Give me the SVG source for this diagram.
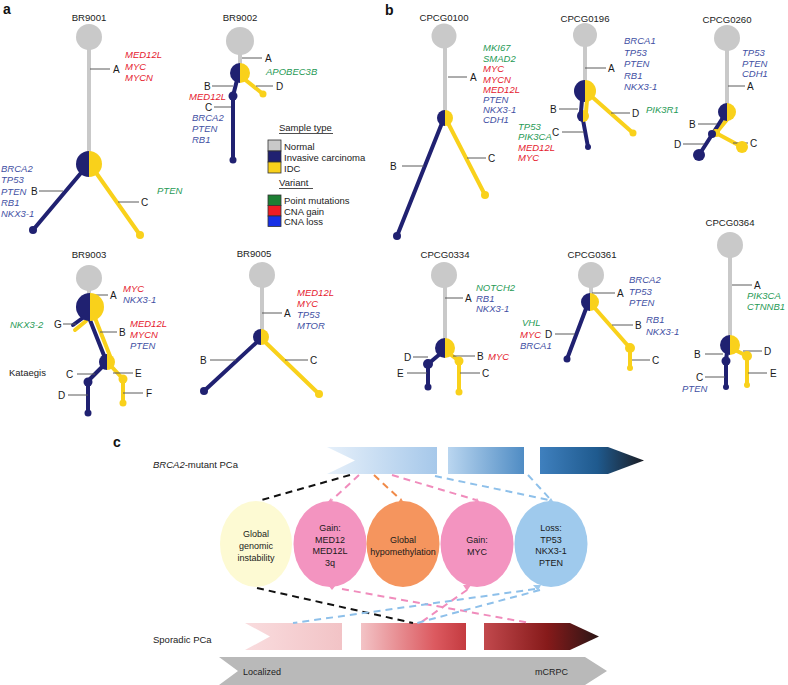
<svg xmlns="http://www.w3.org/2000/svg" width="788" height="685" viewBox="0 0 788 685">
<defs>
<style>
text{font-family:"Liberation Sans",Arial,sans-serif;fill:#222}
.pl{font-size:14px;font-weight:bold;fill:#111}
.tt{font-size:9.6px;text-anchor:middle}
.tk{font-size:10px;fill:#1a1a1a}
.gi{font-size:9.5px;font-style:italic}
.r{fill:#e5202e}.b{fill:#3f50a3}.g{fill:#1f9a55}
.lg{font-size:9.5px}
.ct{font-size:9px;text-anchor:middle;fill:#1a1a1a}
.tick{stroke:#5a5a5a;stroke-width:1;fill:none}
.stem{stroke:#c9c9c9;stroke-width:4;fill:none}
.nv{stroke:#202171;stroke-width:4;stroke-linecap:round;fill:none}
.yl{stroke:#f9d11b;stroke-width:4;stroke-linecap:round;fill:none}
.fn{fill:#c9c9c9}.fnv{fill:#202171}.fyl{fill:#f9d11b}
.d{stroke-width:2;stroke-dasharray:7 5;fill:none}
</style>
<linearGradient id="gb1" x1="0" x2="1" y1="0" y2="0"><stop offset="0" stop-color="#e6f0fa"/><stop offset="1" stop-color="#a6c8ea"/></linearGradient>
<linearGradient id="gb2" x1="0" x2="1" y1="0" y2="0"><stop offset="0" stop-color="#bad6f0"/><stop offset="1" stop-color="#4f8cc4"/></linearGradient>
<linearGradient id="gb3" x1="0" x2="1" y1="0" y2="0"><stop offset="0" stop-color="#3f80be"/><stop offset="0.55" stop-color="#1f5a8e"/><stop offset="1" stop-color="#1b1d24"/></linearGradient>
<linearGradient id="gr1" x1="0" x2="1" y1="0" y2="0"><stop offset="0" stop-color="#f9dcde"/><stop offset="1" stop-color="#f2c3c6"/></linearGradient>
<linearGradient id="gr2" x1="0" x2="1" y1="0" y2="0"><stop offset="0" stop-color="#f3c3c6"/><stop offset="0.7" stop-color="#dc5a60"/><stop offset="1" stop-color="#c43b40"/></linearGradient>
<linearGradient id="gr3" x1="0" x2="1" y1="0" y2="0"><stop offset="0" stop-color="#c2494d"/><stop offset="0.55" stop-color="#861a1a"/><stop offset="1" stop-color="#2a1515"/></linearGradient>
</defs>
<rect width="788" height="685" fill="#fff"/>

<text class="pl" x="3" y="14">a</text>
<text class="pl" x="385" y="15">b</text>
<text class="pl" x="113" y="447">c</text>

<!-- BR9001 -->
<g id="BR9001">
<text class="tt" x="89" y="21">BR9001</text>
<g id="BR9001-edges">
<line class="stem" x1="89" y1="37" x2="89" y2="163"/>
<line class="nv" x1="86" y1="167" x2="33" y2="230"/>
<line class="yl" x1="92" y1="167" x2="140" y2="235"/>
<line class="tick" x1="90" y1="69" x2="110" y2="69"/>
<line class="tick" x1="39" y1="191" x2="63" y2="191"/>
<line class="tick" x1="118" y1="202" x2="139" y2="202"/>
</g>
<g id="BR9001-n0"><circle class="fn" cx="89" cy="37" r="13"/></g>
<g id="BR9001-n1"><path class="fnv" d="M89,151 A13,13 0 0 0 89,177 Z"/><path class="fyl" d="M89,151 A13,13 0 0 1 89,177 Z"/></g>
<g id="BR9001-nB"><circle class="fnv" cx="33" cy="230" r="4"/></g>
<g id="BR9001-nC"><circle class="fyl" cx="140" cy="235" r="4"/></g>
<text class="tk" x="113" y="73">A</text>
<text class="tk" x="31" y="195">B</text>
<text class="tk" x="141" y="206">C</text>
<text class="gi r" x="125" y="58">MED12L</text>
<text class="gi r" x="125" y="69.5">MYC</text>
<text class="gi r" x="125" y="81">MYCN</text>
<text class="gi b" x="1" y="172">BRCA2</text>
<text class="gi b" x="1" y="183">TP53</text>
<text class="gi b" x="1" y="195">PTEN</text>
<text class="gi b" x="1" y="206">RB1</text>
<text class="gi b" x="1" y="217">NKX3-1</text>
<text class="gi g" x="157" y="194">PTEN</text>
</g>

<!-- BR9002 -->
<g id="BR9002">
<text class="tt" x="240" y="21">BR9002</text>
<g id="BR9002-edges">
<line class="stem" x1="240" y1="41" x2="240" y2="64"/>
<line class="nv" x1="237" y1="80" x2="233" y2="96"/>
<line class="nv" x1="233" y1="96" x2="233" y2="160"/>
<line class="yl" x1="243" y1="78" x2="263" y2="94"/>
<line class="tick" x1="242" y1="58" x2="262" y2="58"/>
<line class="tick" x1="256" y1="86" x2="273" y2="86"/>
<line class="tick" x1="212" y1="86" x2="233" y2="86"/>
<line class="tick" x1="214" y1="107" x2="231" y2="107"/>
</g>
<g id="BR9002-n0"><circle class="fn" cx="240" cy="41" r="14"/></g>
<g id="BR9002-n1"><path class="fnv" d="M240,63 A10,10 0 0 0 240,83 Z"/><path class="fyl" d="M240,63 A10,10 0 0 1 240,83 Z"/></g>
<g id="BR9002-nB"><circle class="fnv" cx="233" cy="96" r="4.5"/></g>
<g id="BR9002-nC"><circle class="fnv" cx="233" cy="160" r="3.5"/></g>
<g id="BR9002-nD"><circle class="fyl" cx="263" cy="94" r="3.5"/></g>
<text class="tk" x="265" y="62">A</text>
<text class="tk" x="276" y="90">D</text>
<text class="tk" x="204" y="90">B</text>
<text class="tk" x="205" y="111">C</text>
<text class="gi g" x="266" y="75">APOBEC3B</text>
<text class="gi r" x="226" y="100" text-anchor="end">MED12L</text>
<text class="gi b" x="192" y="121">BRCA2</text>
<text class="gi b" x="192" y="132">PTEN</text>
<text class="gi b" x="192" y="143">RB1</text>
</g>

<!-- Legend -->
<g id="legend">
<text class="lg" x="279" y="131">Sample type</text>
<line x1="279" y1="133.5" x2="333" y2="133.5" stroke="#222" stroke-width="0.8"/>
<rect x="268" y="140" width="13" height="11" fill="#c9c9c9" stroke="#333" stroke-width="0.8"/>
<rect x="268" y="151" width="13" height="11" fill="#202171" stroke="#333" stroke-width="0.8"/>
<rect x="268" y="162" width="13" height="11" fill="#f9d11b" stroke="#333" stroke-width="0.8"/>
<text class="lg" x="284" y="150">Normal</text>
<text class="lg" x="284" y="161">Invasive carcinoma</text>
<text class="lg" x="284" y="172">IDC</text>
<text class="lg" x="279" y="186">Variant</text>
<line x1="279" y1="188.5" x2="313" y2="188.5" stroke="#222" stroke-width="0.8"/>
<rect x="268" y="195" width="13" height="10.5" fill="#1d7f33" stroke="#333" stroke-width="0.8"/>
<rect x="268" y="205.5" width="13" height="10.5" fill="#ee1c24" stroke="#333" stroke-width="0.8"/>
<rect x="268" y="216" width="13" height="10.5" fill="#1730e6" stroke="#333" stroke-width="0.8"/>
<text class="lg" x="284" y="204">Point mutations</text>
<text class="lg" x="284" y="215">CNA gain</text>
<text class="lg" x="284" y="225">CNA loss</text>
</g>

<!-- BR9003 -->
<g id="BR9003">
<text class="tt" x="89" y="258">BR9003</text>
<g id="BR9003-edges">
<line class="stem" x1="89" y1="278" x2="89" y2="294"/>
<line class="yl" x1="86" y1="321" x2="75" y2="330"/>
<line class="nv" x1="84" y1="317" x2="73" y2="325"/>
<line class="yl" x1="93" y1="313" x2="110" y2="356"/>
<line class="nv" x1="88" y1="315" x2="105" y2="358"/>
<line class="nv" x1="103" y1="366" x2="88" y2="381"/>
<line class="nv" x1="88" y1="382" x2="88" y2="413"/>
<line class="yl" x1="111" y1="366" x2="123" y2="379"/>
<line class="yl" x1="123" y1="379" x2="123" y2="403"/>
<line class="tick" x1="90" y1="295" x2="108" y2="295"/>
<line class="tick" x1="63" y1="324" x2="76" y2="324"/>
<line class="tick" x1="100" y1="332" x2="117" y2="332"/>
<line class="tick" x1="77" y1="374" x2="95" y2="374"/>
<line class="tick" x1="113" y1="373" x2="133" y2="373"/>
<line class="tick" x1="68" y1="395" x2="88" y2="395"/>
<line class="tick" x1="123" y1="393" x2="143" y2="393"/>
</g>
<g id="BR9003-n0"><circle class="fn" cx="89" cy="278" r="13"/></g>
<g id="BR9003-n1"><path class="fnv" d="M90,293 A14,14 0 0 0 90,321 Z"/><path class="fyl" d="M90,293 A14,14 0 0 1 90,321 Z"/></g>
<g id="BR9003-n2"><path class="fnv" d="M107,354 A8,8 0 0 0 107,370 Z"/><path class="fyl" d="M107,354 A8,8 0 0 1 107,370 Z"/></g>
<g id="BR9003-nC"><circle class="fnv" cx="88" cy="382" r="4.5"/></g>
<g id="BR9003-nD"><circle class="fnv" cx="88" cy="413" r="3.5"/></g>
<g id="BR9003-nE"><circle class="fyl" cx="123" cy="379" r="4.5"/></g>
<g id="BR9003-nF"><circle class="fyl" cx="123" cy="403" r="3.5"/></g>
<text class="tk" x="110" y="299">A</text>
<text class="tk" x="54" y="328">G</text>
<text class="tk" x="119" y="336">B</text>
<text class="tk" x="66" y="378">C</text>
<text class="tk" x="135" y="377">E</text>
<text class="tk" x="58" y="399">D</text>
<text class="tk" x="146" y="397">F</text>
<text class="gi r" x="123" y="292">MYC</text>
<text class="gi b" x="123" y="303">NKX3-1</text>
<text class="gi g" x="10" y="328">NKX3-2</text>
<text class="gi r" x="130" y="327">MED12L</text>
<text class="gi r" x="130" y="338">MYCN</text>
<text class="gi b" x="130" y="349">PTEN</text>
<text x="9" y="376" font-size="9.5" fill="#333">Kataegis</text>
</g>

<!-- BR9005 -->
<g id="BR9005">
<text class="tt" x="254" y="257">BR9005</text>
<g id="BR9005-edges">
<line class="stem" x1="262" y1="275" x2="262" y2="331"/>
<line class="nv" x1="258" y1="341" x2="204" y2="391"/>
<line class="yl" x1="264" y1="341" x2="319" y2="394"/>
<line class="tick" x1="262" y1="313" x2="282" y2="313"/>
<line class="tick" x1="210" y1="360" x2="236" y2="360"/>
<line class="tick" x1="285" y1="360" x2="308" y2="360"/>
</g>
<g id="BR9005-n0"><circle class="fn" cx="262" cy="275" r="13"/></g>
<g id="BR9005-n1"><path class="fnv" d="M261,329 A8,8 0 0 0 261,345 Z"/><path class="fyl" d="M261,329 A8,8 0 0 1 261,345 Z"/></g>
<g id="BR9005-nB"><circle class="fnv" cx="204" cy="391" r="4"/></g>
<g id="BR9005-nC"><circle class="fyl" cx="319" cy="394" r="4"/></g>
<text class="tk" x="284" y="317">A</text>
<text class="tk" x="200" y="364">B</text>
<text class="tk" x="310" y="364">C</text>
<text class="gi r" x="297" y="296">MED12L</text>
<text class="gi r" x="297" y="307">MYC</text>
<text class="gi b" x="297" y="318">TP53</text>
<text class="gi b" x="297" y="329">MTOR</text>
</g>

<!-- CPCG0100 -->
<g id="CPCG0100">
<text class="tt" x="444" y="21">CPCG0100</text>
<g id="CPCG0100-edges">
<line class="stem" x1="445" y1="36" x2="445" y2="112"/>
<line class="nv" x1="442" y1="123" x2="397" y2="236"/>
<line class="yl" x1="448" y1="123" x2="485" y2="195"/>
<line class="tick" x1="448" y1="77" x2="467" y2="77"/>
<line class="tick" x1="402" y1="166" x2="424" y2="166"/>
<line class="tick" x1="467" y1="158" x2="486" y2="158"/>
</g>
<g id="CPCG0100-n0"><circle class="fn" cx="444" cy="36" r="12.5"/></g>
<g id="CPCG0100-n1"><path class="fnv" d="M445,110 A8,8 0 0 0 445,126 Z"/><path class="fyl" d="M445,110 A8,8 0 0 1 445,126 Z"/></g>
<g id="CPCG0100-nB"><circle class="fnv" cx="397" cy="236" r="4"/></g>
<g id="CPCG0100-nC"><circle class="fyl" cx="485" cy="195" r="4"/></g>
<text class="tk" x="470" y="81">A</text>
<text class="tk" x="390" y="170">B</text>
<text class="tk" x="488" y="162">C</text>
<text class="gi g" x="483" y="51">MKI67</text>
<text class="gi g" x="483" y="61.5">SMAD2</text>
<text class="gi r" x="483" y="72">MYC</text>
<text class="gi r" x="483" y="82.5">MYCN</text>
<text class="gi r" x="483" y="93">MED12L</text>
<text class="gi b" x="483" y="103">PTEN</text>
<text class="gi b" x="483" y="113">NKX3-1</text>
<text class="gi b" x="483" y="123">CDH1</text>
</g>

<!-- CPCG0196 -->
<g id="CPCG0196">
<text class="tt" x="585" y="22">CPCG0196</text>
<g id="CPCG0196-edges">
<line class="stem" x1="585" y1="35" x2="585" y2="82"/>
<line class="yl" x1="587" y1="100" x2="586" y2="112"/>
<line class="nv" x1="582" y1="100" x2="581" y2="112"/>
<line class="nv" x1="583" y1="120" x2="588" y2="147"/>
<line class="yl" x1="590" y1="95" x2="633" y2="133"/>
<line class="tick" x1="585" y1="68" x2="606" y2="68"/>
<line class="tick" x1="559" y1="109" x2="578" y2="109"/>
<line class="tick" x1="562" y1="132" x2="584" y2="132"/>
<line class="tick" x1="611" y1="113" x2="630" y2="113"/>
</g>
<g id="CPCG0196-n0"><circle class="fn" cx="585" cy="35" r="12"/></g>
<g id="CPCG0196-n1"><path class="fnv" d="M585,80 A11,11 0 0 0 585,102 Z"/><path class="fyl" d="M585,80 A11,11 0 0 1 585,102 Z"/></g>
<g id="CPCG0196-n2"><path class="fnv" d="M583,110 A6,6 0 0 0 583,122 Z"/><path class="fyl" d="M583,110 A6,6 0 0 1 583,122 Z"/></g>
<g id="CPCG0196-nC"><circle class="fnv" cx="588" cy="147" r="3"/></g>
<g id="CPCG0196-nD"><circle class="fyl" cx="633" cy="133" r="3.5"/></g>
<text class="tk" x="608" y="72">A</text>
<text class="tk" x="550" y="113">B</text>
<text class="tk" x="552" y="136">C</text>
<text class="tk" x="632" y="117">D</text>
<text class="gi b" x="624" y="44">BRCA1</text>
<text class="gi b" x="624" y="55.5">TP53</text>
<text class="gi b" x="624" y="67">PTEN</text>
<text class="gi b" x="624" y="78.5">RB1</text>
<text class="gi b" x="624" y="90">NKX3-1</text>
<text class="gi g" x="646" y="113">PIK3R1</text>
<text class="gi g" x="518" y="130">TP53</text>
<text class="gi g" x="518" y="140">PIK3CA</text>
<text class="gi r" x="518" y="150.5">MED12L</text>
<text class="gi r" x="518" y="161">MYC</text>
</g>

<!-- CPCG0260 -->
<g id="CPCG0260">
<text class="tt" x="727" y="23">CPCG0260</text>
<g id="CPCG0260-edges">
<line class="stem" x1="727" y1="38" x2="727" y2="105"/>
<line class="yl" x1="730" y1="116" x2="716" y2="133"/>
<line class="yl" x1="716" y1="133" x2="742" y2="147"/>
<line class="nv" x1="724" y1="116" x2="699" y2="155"/>
<line class="tick" x1="728" y1="86" x2="745" y2="86"/>
<line class="tick" x1="698" y1="124" x2="717" y2="124"/>
<line class="tick" x1="683" y1="144" x2="704" y2="144"/>
<line class="tick" x1="733" y1="143" x2="748" y2="143"/>
</g>
<g id="CPCG0260-n0"><circle class="fn" cx="727" cy="38" r="13"/></g>
<g id="CPCG0260-n1"><path class="fnv" d="M727,103 A9,9 0 0 0 727,121 Z"/><path class="fyl" d="M727,103 A9,9 0 0 1 727,121 Z"/></g>
<g id="CPCG0260-nY"><circle class="fyl" cx="716" cy="133" r="4"/></g>
<g id="CPCG0260-nB"><circle class="fnv" cx="712" cy="134" r="4"/></g>
<g id="CPCG0260-nD"><circle class="fnv" cx="699" cy="155" r="6"/></g>
<g id="CPCG0260-nC"><circle class="fyl" cx="742" cy="147" r="6"/></g>
<text class="tk" x="747" y="90">A</text>
<text class="tk" x="689" y="128">B</text>
<text class="tk" x="674" y="148">D</text>
<text class="tk" x="750" y="147">C</text>
<text class="gi b" x="742" y="56">TP53</text>
<text class="gi b" x="742" y="67">PTEN</text>
<text class="gi b" x="742" y="77">CDH1</text>
</g>

<!-- CPCG0334 -->
<g id="CPCG0334">
<text class="tt" x="445" y="258">CPCG0334</text>
<g id="CPCG0334-edges">
<line class="stem" x1="445" y1="275" x2="445" y2="340"/>
<line class="nv" x1="440" y1="354" x2="428" y2="364"/>
<line class="nv" x1="428" y1="364" x2="428" y2="387"/>
<line class="yl" x1="450" y1="354" x2="459" y2="361"/>
<line class="yl" x1="459" y1="361" x2="459" y2="392"/>
<line class="tick" x1="445" y1="298" x2="463" y2="298"/>
<line class="tick" x1="453" y1="356" x2="475" y2="356"/>
<line class="tick" x1="413" y1="357" x2="428" y2="357"/>
<line class="tick" x1="407" y1="373" x2="427" y2="373"/>
<line class="tick" x1="460" y1="373" x2="480" y2="373"/>
</g>
<g id="CPCG0334-n0"><circle class="fn" cx="444" cy="275" r="13"/></g>
<g id="CPCG0334-n1"><path class="fnv" d="M445,338 A10,10 0 0 0 445,358 Z"/><path class="fyl" d="M445,338 A10,10 0 0 1 445,358 Z"/></g>
<g id="CPCG0334-nD"><circle class="fnv" cx="428" cy="364" r="5"/></g>
<g id="CPCG0334-nE"><circle class="fnv" cx="428" cy="387" r="3.5"/></g>
<g id="CPCG0334-nB"><circle class="fyl" cx="459" cy="361" r="4.5"/></g>
<g id="CPCG0334-nC"><circle class="fyl" cx="459" cy="392" r="3.5"/></g>
<text class="tk" x="465" y="302">A</text>
<text class="tk" x="477" y="360">B</text>
<text class="tk" x="404" y="361">D</text>
<text class="tk" x="397" y="377">E</text>
<text class="tk" x="482" y="377">C</text>
<text class="gi g" x="476" y="291">NOTCH2</text>
<text class="gi b" x="476" y="302">RB1</text>
<text class="gi b" x="476" y="312">NKX3-1</text>
<text class="gi r" x="488" y="360">MYC</text>
</g>

<!-- CPCG0361 -->
<g id="CPCG0361">
<text class="tt" x="592" y="258">CPCG0361</text>
<g id="CPCG0361-edges">
<line class="stem" x1="591" y1="275" x2="591" y2="295"/>
<line class="yl" x1="593" y1="306" x2="630" y2="348"/>
<line class="yl" x1="630" y1="348" x2="630" y2="368"/>
<line class="nv" x1="587" y1="306" x2="567" y2="359"/>
<line class="tick" x1="592" y1="293" x2="615" y2="293"/>
<line class="tick" x1="612" y1="325" x2="633" y2="325"/>
<line class="tick" x1="632" y1="360" x2="650" y2="360"/>
<line class="tick" x1="555" y1="334" x2="575" y2="334"/>
</g>
<g id="CPCG0361-n0"><circle class="fn" cx="591" cy="275" r="13"/></g>
<g id="CPCG0361-n1"><path class="fnv" d="M590,293 A9,9 0 0 0 590,311 Z"/><path class="fyl" d="M590,293 A9,9 0 0 1 590,311 Z"/></g>
<g id="CPCG0361-nB"><circle class="fyl" cx="630" cy="348" r="5"/></g>
<g id="CPCG0361-nC"><circle class="fyl" cx="630" cy="368" r="3"/></g>
<g id="CPCG0361-nD"><circle class="fnv" cx="567" cy="359" r="3.5"/></g>
<text class="tk" x="617" y="297">A</text>
<text class="tk" x="635" y="329">B</text>
<text class="tk" x="652" y="364">C</text>
<text class="tk" x="545" y="338">D</text>
<text class="gi b" x="629" y="283">BRCA2</text>
<text class="gi b" x="629" y="295">TP53</text>
<text class="gi b" x="629" y="306">PTEN</text>
<text class="gi b" x="646" y="323">RB1</text>
<text class="gi b" x="646" y="335">NKX3-1</text>
<text class="gi g" x="522" y="326">VHL</text>
<text class="gi r" x="520" y="338">MYC</text>
<text class="gi b" x="520" y="349">BRCA1</text>
</g>

<!-- CPCG0364 -->
<g id="CPCG0364">
<text class="tt" x="730" y="226">CPCG0364</text>
<g id="CPCG0364-edges">
<line class="stem" x1="730" y1="245" x2="730" y2="336"/>
<line class="nv" x1="727" y1="352" x2="726" y2="361"/>
<line class="nv" x1="726" y1="361" x2="726" y2="387"/>
<line class="yl" x1="735" y1="350" x2="747" y2="356"/>
<line class="yl" x1="747" y1="356" x2="747" y2="385"/>
<line class="tick" x1="732" y1="285" x2="752" y2="285"/>
<line class="tick" x1="705" y1="354" x2="723" y2="354"/>
<line class="tick" x1="705" y1="377" x2="725" y2="377"/>
<line class="tick" x1="743" y1="351" x2="762" y2="351"/>
<line class="tick" x1="748" y1="373" x2="767" y2="373"/>
</g>
<g id="CPCG0364-n0"><circle class="fn" cx="730" cy="245" r="13"/></g>
<g id="CPCG0364-n1"><path class="fnv" d="M730,335 A10,10 0 0 0 730,355 Z"/><path class="fyl" d="M730,335 A10,10 0 0 1 730,355 Z"/></g>
<g id="CPCG0364-nB"><circle class="fnv" cx="726" cy="361" r="4.5"/></g>
<g id="CPCG0364-nC"><circle class="fnv" cx="726" cy="387" r="3"/></g>
<g id="CPCG0364-nD"><circle class="fyl" cx="747" cy="356" r="5"/></g>
<g id="CPCG0364-nE"><circle class="fyl" cx="747" cy="385" r="3"/></g>
<text class="tk" x="754" y="289">A</text>
<text class="tk" x="694" y="358">B</text>
<text class="tk" x="696" y="381">C</text>
<text class="tk" x="764" y="355">D</text>
<text class="tk" x="770" y="377">E</text>
<text class="gi g" x="747" y="299" font-size="8.5">PIK3CA</text>
<text class="gi g" x="747" y="310" font-size="8.5">CTNNB1</text>
<text class="gi b" x="682" y="392">PTEN</text>
</g>

<!-- Panel c -->
<g id="panel-c">
<text x="153" y="468" font-size="9.5"><tspan font-style="italic">BRCA2</tspan>-mutant PCa</text>
<text x="153" y="643" font-size="9.5">Sporadic PCa</text>
<g id="blue-bars">
<polygon points="327,447 437,447 437,474 327,474 355,460.5" fill="url(#gb1)"/>
<rect x="448" y="447" width="76" height="27" fill="url(#gb2)"/>
<polygon points="540,447 608,447 644,460.5 608,474 540,474" fill="url(#gb3)"/>
</g>
<g id="red-bars">
<polygon points="245,623 342,623 342,650 245,650 270,636.5" fill="url(#gr1)"/>
<rect x="361" y="623" width="105" height="27" fill="url(#gr2)"/>
<polygon points="484,623 570,623 599,636.5 570,650 484,650" fill="url(#gr3)"/>
</g>
<g id="stage-arrow">
<polygon points="219,657 585,657 607,671 585,685 219,685 238,671" fill="#b9b9b9"/>
<text x="243" y="675" font-size="9">Localized</text>
<text x="535" y="675" font-size="9">mCRPC</text>
</g>
<g id="connectors">
<line class="d" stroke="#111" x1="350" y1="475" x2="258" y2="501"/>
<line class="d" stroke="#f08cbc" x1="359" y1="475" x2="332" y2="500"/>
<line class="d" stroke="#f08a48" x1="374" y1="475" x2="401" y2="500"/>
<line class="d" stroke="#f08cbc" x1="392" y1="475" x2="476" y2="500"/>
<line class="d" stroke="#8ec0ea" x1="435" y1="476" x2="549" y2="500"/>
<line class="d" stroke="#8ec0ea" x1="528" y1="475" x2="551" y2="500"/>
<line class="d" stroke="#111" x1="257" y1="588" x2="413" y2="623"/>
<line class="d" stroke="#f08cbc" x1="342" y1="589" x2="530" y2="623"/>
<line class="d" stroke="#f08cbc" x1="467" y1="590" x2="420" y2="623"/>
<line class="d" stroke="#8ec0ea" x1="535" y1="589" x2="293" y2="623"/>
<line class="d" stroke="#8ec0ea" x1="540" y1="590" x2="417" y2="623"/>
</g>
<g id="c-genomic">
<ellipse cx="256" cy="544" rx="36" ry="43" fill="#fdfad3"/>
<text class="ct" x="256" y="537">Global</text>
<text class="ct" x="256" y="549">genomic</text>
<text class="ct" x="256" y="561">instability</text>
</g>
<g id="c-med12">
<ellipse cx="330" cy="544" rx="36.5" ry="43" fill="#f394c0"/>
<polygon points="327,503 333,503 331,498" fill="#f394c0"/>
<polygon points="328,585 336,585 332,590" fill="#f394c0"/>
<text class="ct" x="330" y="531">Gain:</text>
<text class="ct" x="330" y="543">MED12</text>
<text class="ct" x="330" y="554">MED12L</text>
<text class="ct" x="330" y="566">3q</text>
</g>
<g id="c-hypo">
<ellipse cx="403" cy="544" rx="36.5" ry="43" fill="#f5955e"/>
<polygon points="398,503 404,503 401,498" fill="#f5955e"/>
<text class="ct" x="403" y="543">Global</text>
<text class="ct" x="403" y="555">hypomethylation</text>
</g>
<g id="c-myc">
<ellipse cx="477" cy="544" rx="36.5" ry="43" fill="#f394c0"/>
<polygon points="474,503 480,503 477,498" fill="#f394c0"/>
<polygon points="463,585 471,585 467,591" fill="#f394c0"/>
<text class="ct" x="477" y="543">Gain:</text>
<text class="ct" x="477" y="555">MYC</text>
</g>
<g id="c-loss">
<ellipse cx="551" cy="544" rx="36.5" ry="43" fill="#9fcaed"/>
<polygon points="547,503 554,503 551,498" fill="#9fcaed"/>
<polygon points="533,585 541,585 538,591" fill="#9fcaed"/>
<text class="ct" x="551" y="531">Loss:</text>
<text class="ct" x="551" y="543">TP53</text>
<text class="ct" x="551" y="554">NKX3-1</text>
<text class="ct" x="551" y="566">PTEN</text>
</g>
</g>
</svg>
